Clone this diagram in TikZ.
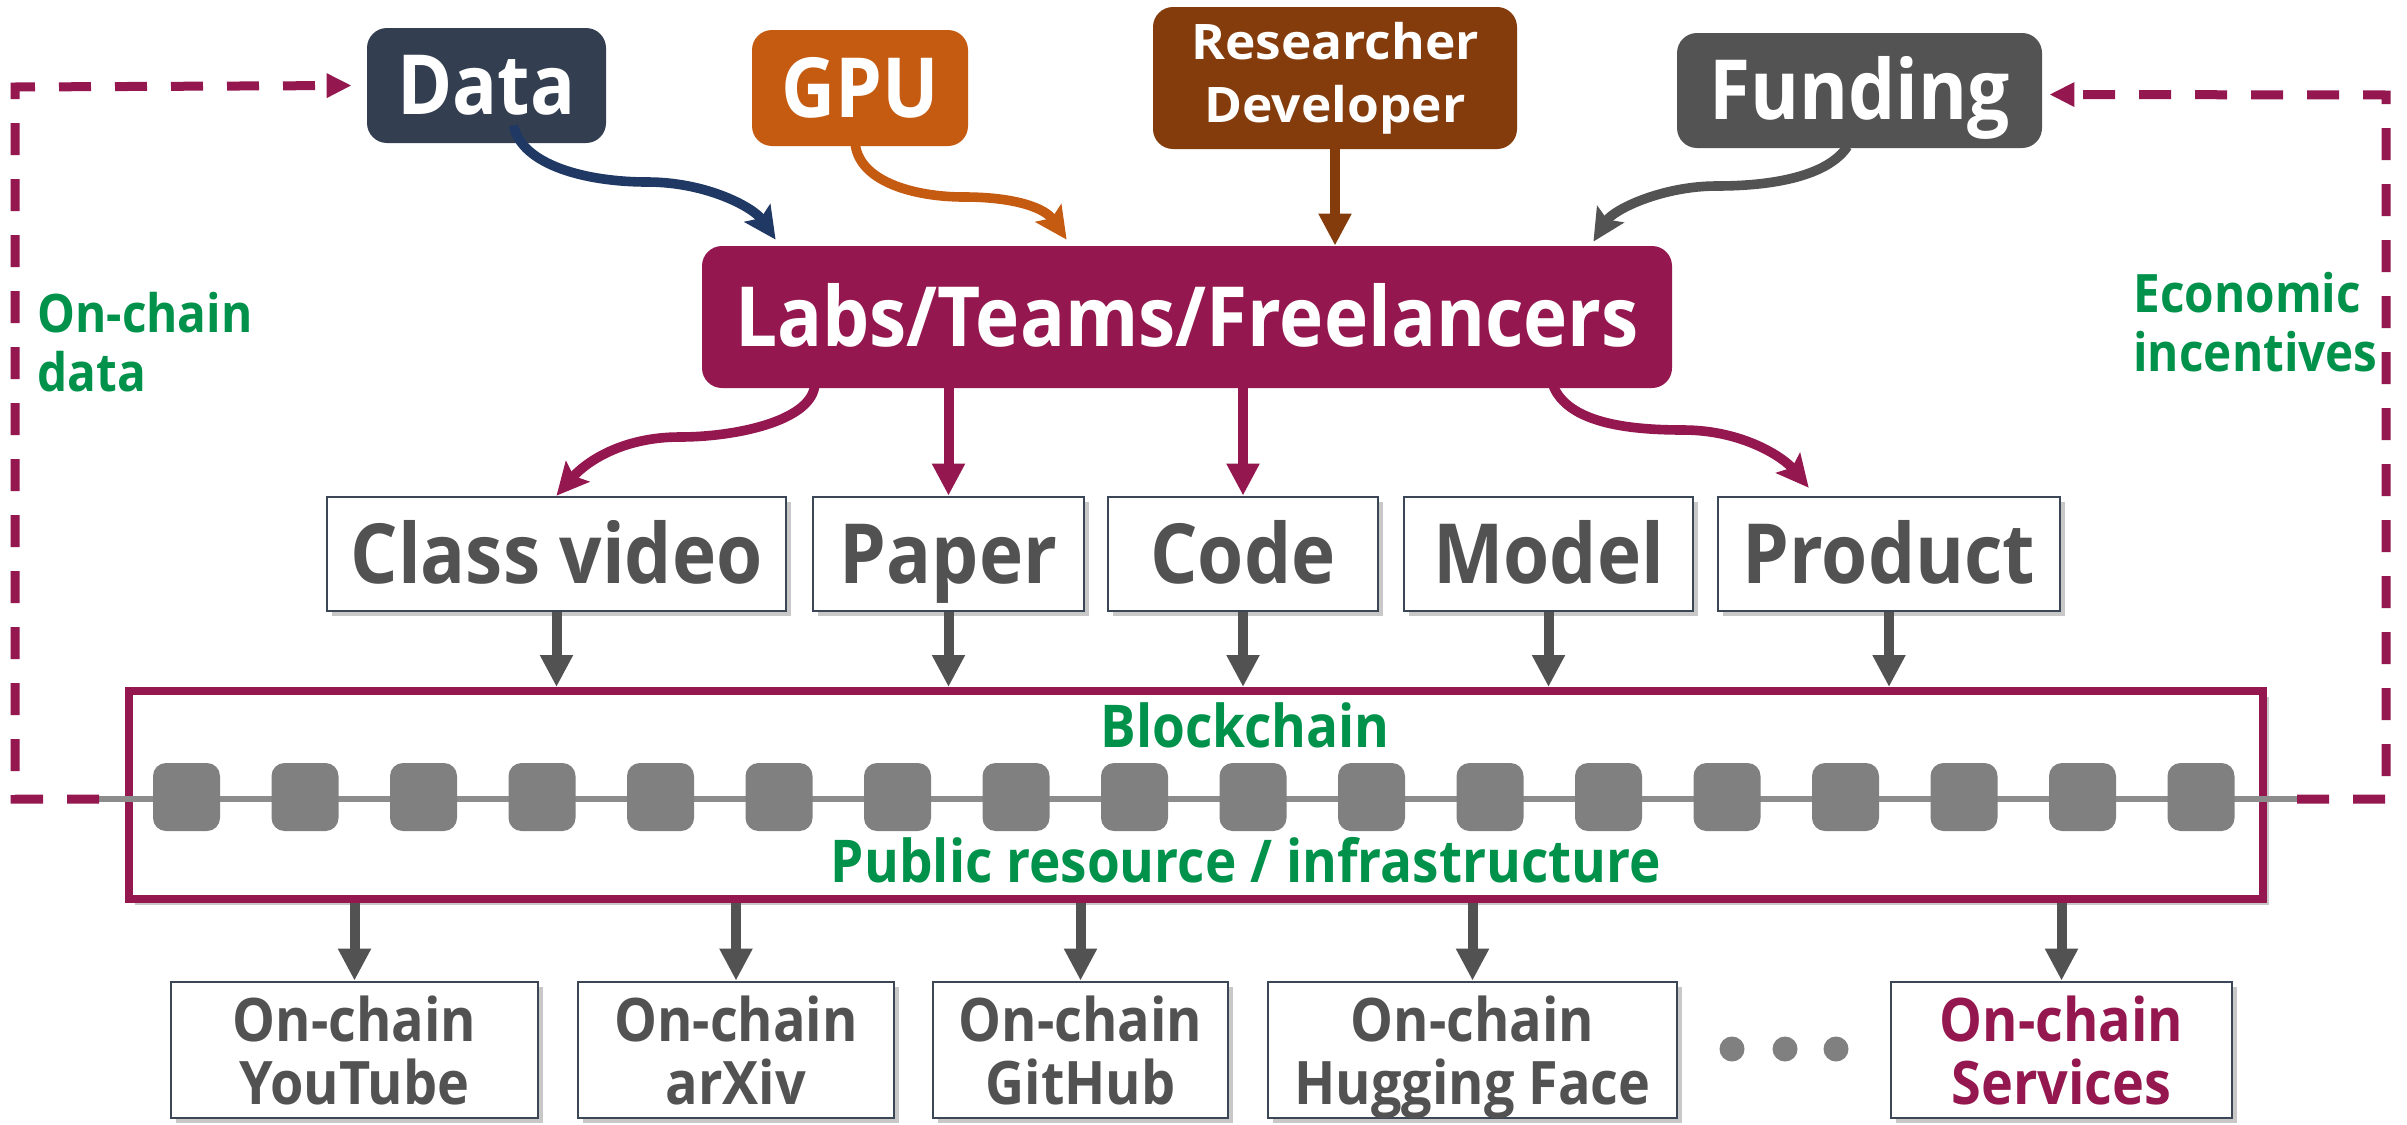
\documentclass[tikz,border=0pt]{standalone}
\usepackage{fontspec}
\setmainfont[FakeStretch=0.9]{Open Sans}
\newfontfamily\wideos[FakeStretch=1.05]{Open Sans}
\usetikzlibrary{arrows.meta,calc,shadows}
\definecolor{cData}{HTML}{333F50}
\definecolor{cDataA}{HTML}{203864}
\definecolor{cGPU}{HTML}{C55A11}
\definecolor{cRes}{HTML}{843C0C}
\definecolor{cFund}{HTML}{535353}
\definecolor{cLabs}{HTML}{95174F}
\definecolor{cGreen}{HTML}{00914A}
\definecolor{cGray}{HTML}{525252}
\definecolor{cBlock}{HTML}{808080}
\definecolor{cLine}{HTML}{8C8C8C}
\definecolor{cBorder}{HTML}{3B4656}
\begin{document}
\begin{tikzpicture}[x=0.5pt,y=-0.5pt,
  wh/.style 2 args={minimum width=#1*0.5pt, minimum height=#2*0.5pt},
  cap/.style={text height=#1*0.5pt, text depth=0pt},
  topbox/.style={rounded corners=10pt, text=white, inner sep=0pt, align=center,
    font=\bfseries\fontsize{41.5}{45}\selectfont},
  midbox/.style={draw=cBorder, line width=1.35pt, fill=white, text=cGray, inner sep=0pt,
    font=\bfseries\fontsize{41.5}{45}\selectfont, cap=58,
    drop shadow={shadow xshift=2.5pt, shadow yshift=-2.5pt, opacity=0.3, fill=black!70}},
  botbox/.style={draw=cBorder, line width=1.35pt, fill=white, text=cGray, inner sep=0pt,
    align=center, text depth=0pt, font=\bfseries\fontsize{30}{31.5}\selectfont,
    drop shadow={shadow xshift=2.5pt, shadow yshift=-2.5pt, opacity=0.3, fill=black!70}},
  chainbox/.style={draw=cLabs, line width=4pt, fill=white, inner sep=0pt,
    drop shadow={shadow xshift=3pt, shadow yshift=-3pt, opacity=0.3, fill=black!70}},
  blk/.style={fill=cBlock, rounded corners=6.5pt, inner sep=0pt, wh={67}{68}},
  dotnode/.style={fill=cBlock, circle, inner sep=0pt, minimum size=12.5pt},
  gtext/.style={text=cGreen, inner sep=0pt, font=\bfseries\fontsize{26.5}{29.5}\selectfont},
  gtextb/.style={text=cGreen, inner sep=0pt, font=\bfseries\fontsize{29.5}{32}\selectfont},
  arr/.style={draw=cGray, line width=5pt, -{Triangle[length=16pt,width=15.5pt]}},
  marr/.style={draw=cLabs, line width=5pt, -{Triangle[length=16pt,width=15.5pt]}},
  carr/.style={line width=4.8pt, -{Stealth[length=16pt,width=15.5pt,inset=3pt]}},
  dashln/.style={draw=cLabs, line width=4.5pt, dash pattern=on 16pt off 12pt,
    -{Triangle[length=12.5pt,width=11.5pt]}}
]
\useasboundingbox[fill=white] (0,0) rectangle (2407,1124);

% top sources
\node[topbox, fill=cData, wh={239}{115}, cap=58] (data) at (486.5,85.5) {Data};
\node[topbox, fill=cGPU, wh={216}{116}, cap=58] (gpu) at (860,88) {GPU};
\node[topbox, fill=cRes, wh={364}{142}, font=\wideos\bfseries\fontsize{24.5}{31.5}\selectfont] (res) at (1335,78) {Researcher\\Developer};
\node[topbox, fill=cFund, wh={365}{115}, cap=57] (fund) at (1859.5,90.5) {Funding};
\node[topbox, fill=cLabs, wh={970}{142}, cap=59, font=\bfseries\fontsize{41.5}{45}\selectfont] (labs) at (1187,317) {Labs/Teams/Freelancers};

% outputs
\node[midbox, wh={459}{114}] (cv) at (556.5,554) {Class video};
\node[midbox, wh={271}{114}] (paper) at (948.5,554) {Paper};
\node[midbox, wh={270}{114}] (code) at (1243,554) {Code};
\node[midbox, wh={289}{114}] (model) at (1548.5,554) {Model};
\node[midbox, wh={342}{114}] (product) at (1889,554) {Product};

% blockchain
\node[chainbox, wh={2134}{208}] (chain) at (1196,795) {};
\coordinate (cl) at (99,799);
\coordinate (cr) at (2297,799);
\draw[cLine, line width=3pt] (cl) -- (cr);
\foreach \i in {0,...,17} \node[blk] (b\i) at ({186.5+\i*118.5},797) {};
\node[gtextb, anchor=base] (bcl) at (1245,747) {Blockchain};
\node[gtextb, anchor=base] (pub) at (1246,882) {Public resource / infrastructure};

% bottom services
\node[botbox, wh={367}{136}] (yt) at (354.5,1050) {On-chain\\YouTube};
\node[botbox, wh={316}{136}] (arxiv) at (736,1050) {On-chain\\arXiv};
\node[botbox, wh={295}{136}] (github) at (1080.5,1050) {On-chain\\GitHub};
\node[botbox, wh={409}{136}] (hf) at (1472.5,1050) {On-chain\\Hugging Face};
\node[botbox, wh={341}{136}, text=cLabs] (serv) at (2061.5,1050) {On-chain\\Services};
\node[dotnode] (d1) at (1732,1049) {};
\node[dotnode] (d2) at (1785,1049) {};
\node[dotnode] (d3) at (1836,1049) {};

% side labels
\node[gtext, anchor=north west, align=left] (ocd) at (37,292) {On-chain\\data};
\node[gtext, anchor=north west, align=left] (eco) at (2133,272) {Economic\\incentives};

% arrows into labs
\draw[carr, cDataA] ($(data.south)+(27,-18)$) .. controls +(8,40) and +(-60,0) .. (647,182)
  .. controls +(60,0) and +(-22,-32) .. ($(labs.north west)+(74,-6)$);
\draw[carr, cGPU] ($(gpu.south)+(-5,-5)$) .. controls +(2,40) and +(-50,0) .. (964,197)
  .. controls +(50,0) and +(-22,-32) .. ($(labs.north west)+(365,-6)$);
\draw[carr, cRes, -{Triangle[length=16pt,width=15.5pt]}] (res.south) -- (res.south |- labs.north);
\draw[carr, cFund] ($(fund.south)+(-12,-2)$) .. controls +(-20,30) and +(55,0) .. (1717,186)
  .. controls +(-55,0) and +(20,-32) .. ($(labs.north east)+(-79,-4)$);

% labs to outputs
\draw[carr, cLabs] ($(labs.south west)+(113,-2)$) .. controls +(-5,35) and +(55,0) .. (680,437)
  .. controls +(-60,0) and +(28,-32) .. (cv.north);
\draw[marr] (labs.south -| paper.north) -- (paper.north);
\draw[marr] (labs.south -| code.north) -- (code.north);
\draw[carr, cLabs] ($(labs.south east)+(-119,-2)$) .. controls +(15,35) and +(-60,0) .. (1683,430)
  .. controls +(60,0) and +(-25,-30) .. ($(product.north west)+(92,-8)$);

% outputs to chain
\foreach \n in {cv,paper,code,model,product}
  \draw[arr] (\n.south) -- (\n.south |- chain.north);
% chain to services
\foreach \n in {yt,arxiv,github,hf,serv}
  \draw[arr] (chain.south -| \n.north) -- (\n.north);

% feedback loops
\draw[dashln] (cl) -- (15,799) -- (15,87) -- ($(data.west)+(-15,0)$);
\draw[dashln] (cr) -- (2386,799) -- (2386,95) -- ($(fund.east)+(7,4)$);
\end{tikzpicture}
\end{document}
